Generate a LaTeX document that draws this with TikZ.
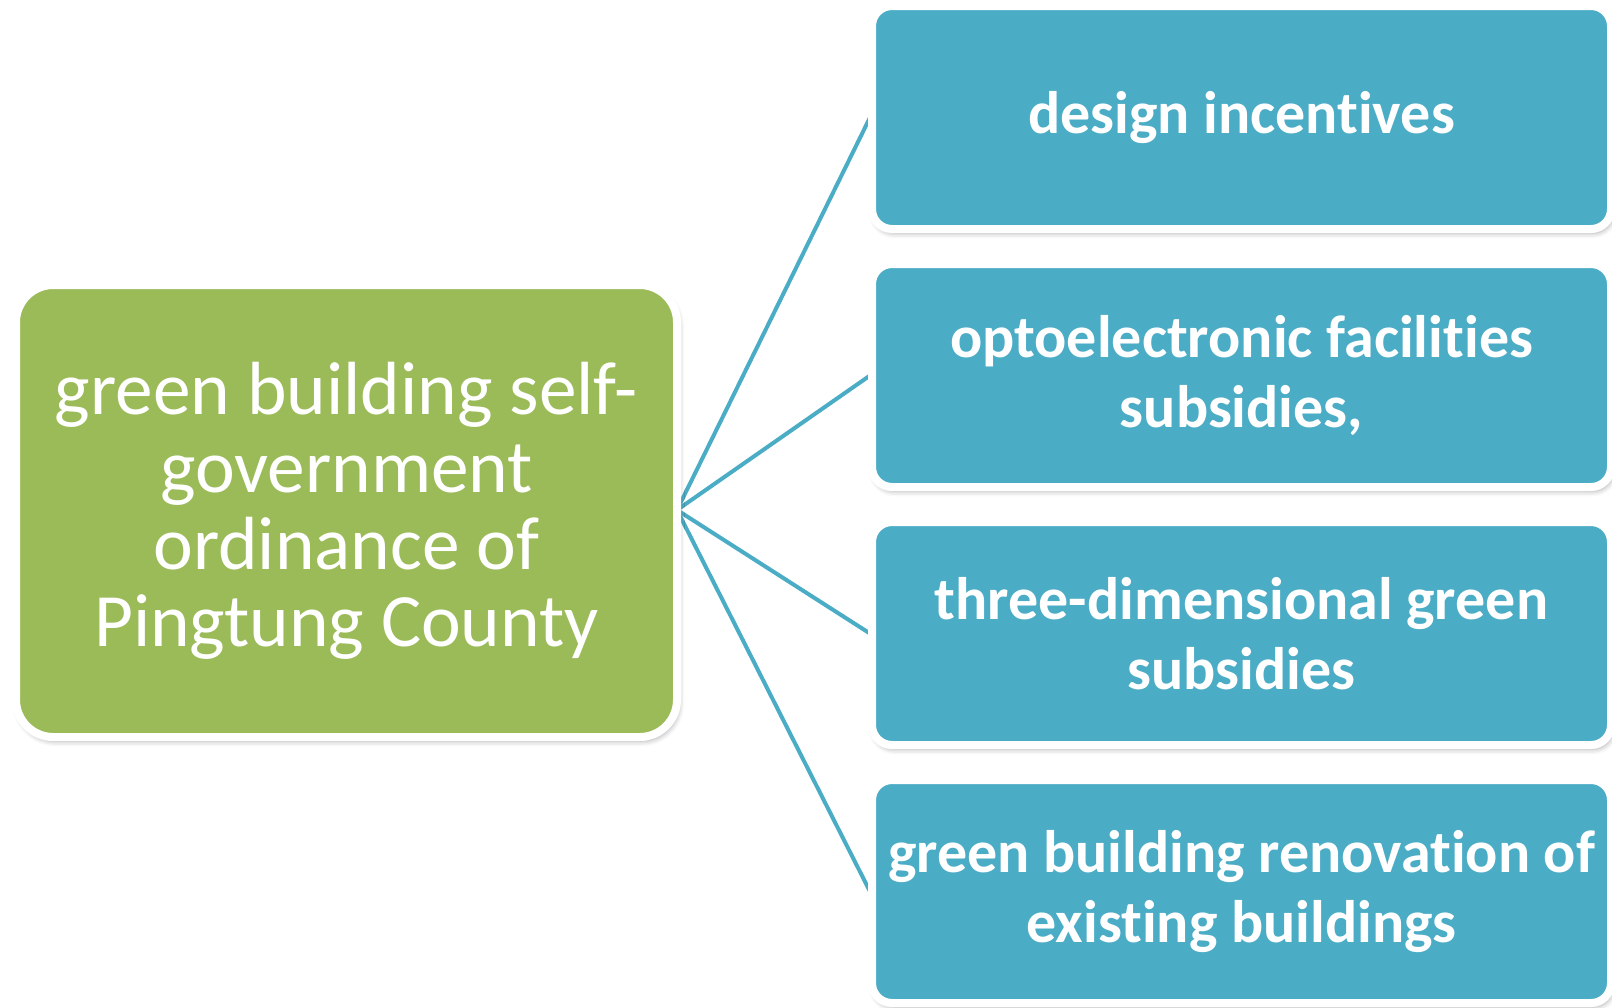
\documentclass[tikz,border=0pt]{standalone}
\usepackage{fontspec}
\setmainfont{Carlito}[RawFeature=-liga]
\usetikzlibrary{shadows.blur}
\definecolor{grn}{HTML}{9BBB59}
\definecolor{blu}{HTML}{4BACC6}
\tikzset{
  x=0.75pt, y=-0.75pt,
  shadowed/.style={blur shadow={shadow xshift=1.5pt, shadow yshift=-3pt, shadow blur radius=4pt, shadow opacity=35}},
  mainbox/.style={shadowed, draw=white, line width=6pt, fill=grn, rounded corners=28pt,
    minimum width=495.75pt, minimum height=339pt, align=center, text=white,
    font=\fontsize{56.5}{58}\selectfont, inner sep=0pt},
  subbox/.style={shadowed, draw=white, line width=6pt, fill=blu, rounded corners=15pt,
    minimum width=554.25pt, minimum height=167.25pt, align=center, text=white,
    font=\fontsize{45}{52}\selectfont\bfseries, inner sep=0pt},
  link/.style={draw=blu, line width=3pt}
}
\begin{document}
\begin{tikzpicture}
\useasboundingbox (0,0) rectangle (1612,1007);
\coordinate (hub) at (677,510);
\coordinate (e1) at (870,117.5);
\coordinate (e2) at (870,375.5);
\coordinate (e3) at (870,633.5);
\coordinate (e4) at (870,891.5);
\draw[link] (hub) -- (e1);
\draw[link] (hub) -- (e2);
\draw[link] (hub) -- (e3);
\draw[link] (hub) -- (e4);
\node[mainbox] (main) at (346.5,511) {green building self-\\government\\ordinance of\\Pingtung County};
\node[subbox] (s1) at (1241.5,117.5) {design incentives};
\node[subbox] (s2) at (1241.5,375.5) {optoelectronic facilities\\subsidies,};
\node[subbox] (s3) at (1241.5,633.5) {three-dimensional green\\subsidies};
\node[subbox] (s4) at (1241.5,891.5) {green building renovation of\\existing buildings};
\end{tikzpicture}
\end{document}
